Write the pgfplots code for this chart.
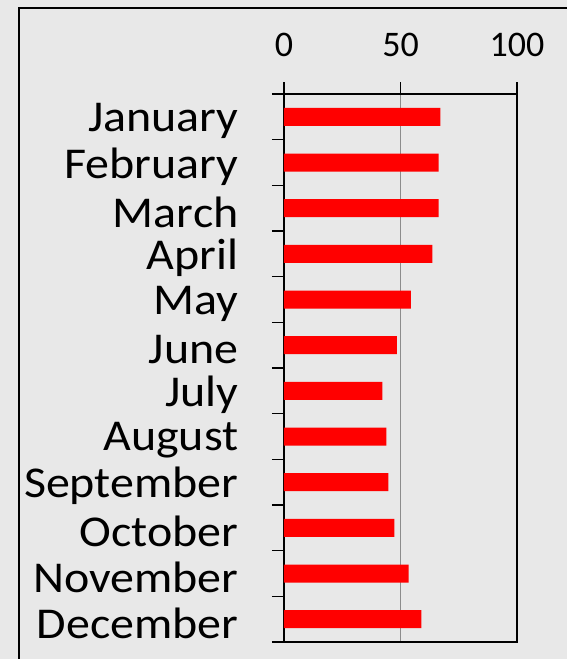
\documentclass[border=0pt]{standalone}
\usepackage{pgfplots}
\pgfplotsset{compat=1.18}
\usepackage{fontspec}
\setmainfont{Carlito}
\newfontfamily\labfont{Carlito}[FakeStretch=1.09]
\definecolor{bg}{HTML}{E8E8E8}
\definecolor{barred}{HTML}{FF0000}
\begin{document}
\begin{tikzpicture}[x=1pt,y=1pt]
\useasboundingbox (0,0) rectangle (567,659);
\fill[bg] (0,0) rectangle (567,659);
\draw[line width=1.5pt] (19,-10) rectangle (600,651);
\begin{axis}[
  at={(284pt,17pt)}, anchor=south west,
  scale only axis, width=233pt, height=548pt,
  xbar, bar width=18pt,
  xmin=0, xmax=100, ymin=-0.5, ymax=11.5, y dir=reverse,
  axis line style={line width=1.3pt},
  xtick={0,50,100}, xtick pos=upper, xticklabel pos=upper,
  ytick={-0.5,0.5,...,11.5}, yticklabels={}, ytick pos=left,
  extra y ticks={0,1,2,3,4,5,6,7,8,9,10,11},
  extra y tick labels={January,February,March,April,May,June,July,August,September,October,November,December},
  extra y tick style={major tick length=0pt, yticklabel style={xshift=-46pt+4pt, yshift=-4pt}},
  tick align=outside, major tick length=12pt,
  tick style={black, line width=1.3pt},
  xmajorgrids, grid style={gray!90, line width=1.2pt},
  /pgf/number format/assume math mode=true,
  xticklabel style={font=\fontsize{36}{36}\selectfont, yshift=22pt},
  yticklabel style={font=\labfont\fontsize{44}{44}\selectfont},
]
\addplot[fill=barred, draw=none] coordinates {
(67.1,0) (66.4,1) (66.4,2) (63.7,3) (54.5,4) (48.4,5) (42.2,6) (43.9,7) (44.8,8) (47.4,9) (53.5,10) (59.0,11)};
\end{axis}
\end{tikzpicture}
\end{document}
